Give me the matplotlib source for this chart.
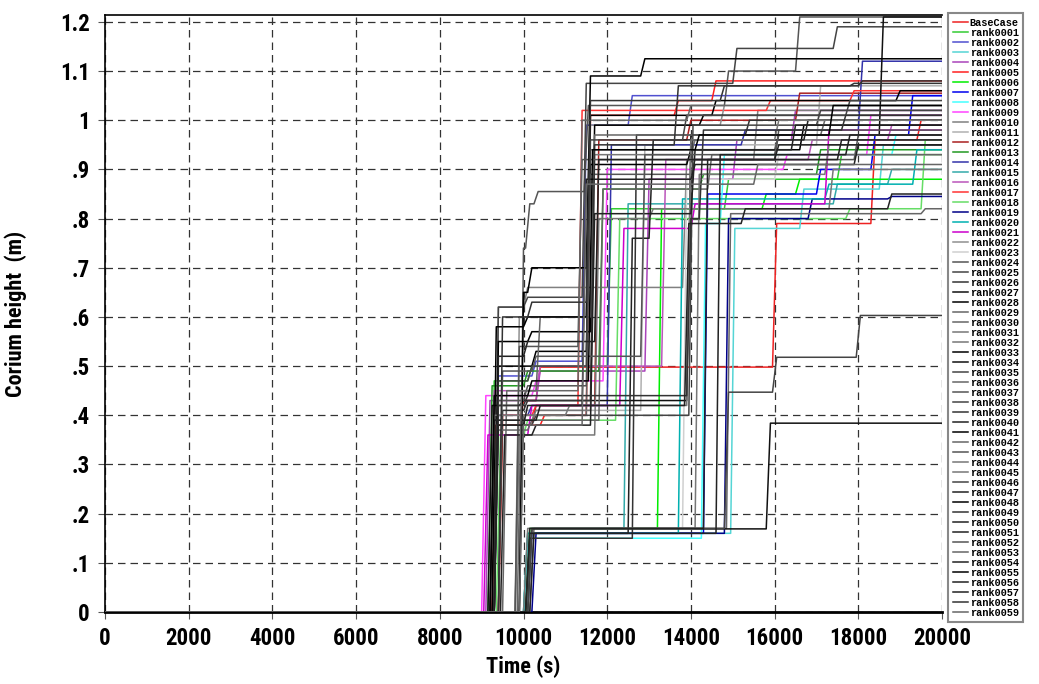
import matplotlib
matplotlib.use('Agg')
import matplotlib.pyplot as plt
from matplotlib import font_manager as fm

# series names
names = ['BaseCase'] + ['rank%04d' % i for i in range(1, 60)]

# times (s) where each series steps up, and the height (m) reached at each step
step_times = [
    [9250, 9900, 10300, 15950, 18300, 19400],   # BaseCase
    [9200, 10100, 12000, 14800, 17500],         # rank0001
    [9300, 10200, 11400, 12500],
    [10000, 14950, 16600, 18500],
    [9100, 10300, 12900, 15000, 16400],
    [9250, 10400, 11500, 13600, 14500],         # rank0005
    [10050, 13200, 15700, 16500],
    [10100, 14300, 17000, 18300, 19200],
    [10000, 14250, 14700, 18800],
    [9000, 10200, 11900, 16200, 18200],
    [9300, 10000, 13800, 15500],                # rank0010
    [9800, 12800, 17000],
    [9400, 10200, 11700, 13900, 16500],
    [9150, 10000, 11800, 14200, 17000],
    [9300, 10100, 12000, 15200, 18000],
    [10100, 12400, 17400, 18700],               # rank0015
    [9200, 10300, 13300, 16800, 18700],
    [9400, 10200, 11300, 15800, 17800],
    [9350, 10000, 12200, 17700, 19500],
    [10200, 14800, 16800, 18700],
    [10000, 13700, 17200, 19300],               # rank0020
    [9050, 10100, 12300, 14000, 17200],
    [9800, 11500, 14700],
    [10100, 13800, 16000],
    [9900, 10050, 10250, 11450, 14800, 16500],
    [9300, 10000, 11400, 15000, 17400],         # rank0025
    [10050, 12600, 15300],
    [9150, 9900, 13900, 18500],
    [9300, 10100, 11600, 14200],
    [9900, 11500, 16000],
    [10150, 14850, 19500],                      # rank0030
    [9200, 10200, 11600, 14000],
    [9800, 11700, 13000, 17300],
    [9300, 10200, 11500, 13900, 16600],
    [10100, 15800],
    [10100, 14800, 15950, 17950],               # rank0035
    [9500, 10300, 11600, 17100],
    [9300, 10000, 11500, 14000, 17900],
    [9250, 10200, 13950, 17000],
    [9400, 10000, 11600, 13600, 18000],
    [10050, 12500, 13000, 16700],               # rank0040
    [9250, 10000, 11500, 14500, 18900],
    [9300, 10100, 11800, 14400],
    [9800, 11300, 16000],
    [10000, 14100, 17200],
    [9200, 11000, 13900, 16000],                # rank0045
    [9300, 10100, 11500, 13800, 17700],
    [9450, 10200, 11600, 14000, 16400],
    [9900, 10100, 11500, 12800],
    [9300, 10000, 13900, 14200, 17600],
    [10050, 14300, 17500],                      # rank0050
    [9200, 10300, 11400, 14000, 17900],
    [9400, 10200, 12800, 16000],
    [9850, 11300, 13900],
    [9300, 10000, 13850, 15200, 18700],
    [9200, 10100, 11550, 14100, 17300],         # rank0055
    [10150, 14600, 17700],
    [9300, 10000, 11700, 16000],
    [9400, 10100, 11500, 14700, 17800],
    [9900, 11400, 15500],
]

step_levels = [
    [0.38, 0.43, 0.498, 0.79, 0.96, 1.00],
    [0.47, 0.50, 0.82, 0.88, 0.93],
    [0.48, 0.51, 0.99, 1.05],
    [0.16, 0.78, 0.86, 0.95],
    [0.43, 0.49, 0.88, 0.96, 1.02],
    [0.38, 0.40, 1.01, 1.04, 1.08],
    [0.17, 0.82, 0.85, 0.88],
    [0.16, 0.85, 0.90, 0.97, 1.05],
    [0.15, 0.79, 0.93, 0.97],
    [0.44, 0.47, 0.90, 0.93, 1.01],
    [0.62, 0.66, 0.92, 1.02],
    [0.41, 0.95, 1.07],
    [0.38, 0.42, 0.96, 1.00, 1.055],
    [0.46, 0.49, 0.86, 0.89, 0.94],
    [0.40, 0.42, 0.95, 0.98, 1.12],
    [0.17, 0.83, 0.87, 0.90],
    [0.45, 0.50, 0.92, 0.96, 0.99],
    [0.40, 0.42, 1.02, 1.04, 1.06],
    [0.36, 0.39, 0.80, 0.82, 0.96],
    [0.16, 0.80, 0.84, 0.845],
    [0.16, 0.84, 0.87, 0.94],
    [0.36, 0.42, 0.78, 0.83, 0.98],
    [0.60, 0.99, 1.03],
    [0.17, 0.88, 0.93],
    [0.74, 0.83, 0.855, 1.03, 1.10, 1.21],
    [0.62, 0.64, 1.075, 1.146, 1.19],
    [0.15, 0.97, 1.00],
    [0.42, 0.43, 0.97, 1.21],
    [0.55, 0.57, 0.99, 1.01],
    [0.40, 0.94, 0.97],
    [0.17, 0.81, 0.82],
    [0.39, 0.41, 0.93, 0.96],
    [0.36, 0.80, 0.82, 0.90],
    [0.50, 0.53, 0.91, 0.94, 0.99],
    [0.169, 0.384],
    [0.17, 0.447, 0.518, 0.603],
    [0.45, 0.60, 0.97, 1.00],
    [0.43, 0.46, 0.89, 0.92, 0.97],
    [0.38, 0.40, 0.99, 1.02],
    [0.41, 0.43, 0.95, 1.07, 1.08],
    [0.16, 0.76, 0.96, 1.00],
    [0.58, 0.60, 1.01, 1.04, 1.06],
    [0.37, 0.39, 0.86, 0.93],
    [0.54, 0.92, 0.98],
    [0.17, 0.89, 0.95],
    [0.40, 0.42, 0.96, 1.00],
    [0.47, 0.50, 0.96, 1.01, 1.04],
    [0.36, 0.38, 0.81, 0.94, 0.99],
    [0.65, 0.70, 1.09, 1.125],
    [0.42, 0.44, 0.80, 0.98, 1.01],
    [0.17, 0.92, 0.96],
    [0.39, 0.42, 0.88, 0.91, 0.95],
    [0.49, 0.52, 0.93, 0.97],
    [0.45, 1.00, 1.03],
    [0.38, 0.42, 0.79, 0.82, 0.85],
    [0.44, 0.47, 0.94, 0.97, 1.03],
    [0.16, 0.93, 0.97],
    [0.52, 0.55, 0.92, 0.95],
    [0.60, 0.63, 1.04, 1.07, 1.075],
    [0.38, 0.87, 0.91],
]

colors = [
    '#ee2222', '#33cc33', '#5050d0', '#55d5d5', '#aa44bb', '#ff2020',
    '#00ee00', '#0000ee', '#44ffff', '#ff44ff', '#808080', '#b0b0b0',
    '#aa2020', '#229922', '#3333aa', '#33aaaa', '#bb55bb', '#ff3333',
    '#66dd66', '#000088', '#00b0b0', '#cc00cc', '#909090', '#d0d0d0',
    '#555555', '#444444', '#333333', '#111111', '#000000', '#666666',
    '#666666', '#777777', '#777777', '#000000', '#111111', '#444444',
    '#666666', '#555555', '#444444', '#333333', '#222222', '#000000',
    '#666666', '#555555', '#777777', '#777777', '#444444', '#222222',
    '#000000', '#333333', '#222222', '#222222', '#555555', '#666666',
    '#222222', '#000000', '#222222', '#222222', '#333333', '#666666',
]

x_ticks = list(range(0, 20001, 2000))
y_ticks = [0.0, 0.1, 0.2, 0.3, 0.4, 0.5, 0.6, 0.7, 0.8, 0.9, 1.0, 1.1, 1.2]
y_tick_labels = ['0', '.1', '.2', '.3', '.4', '.5', '.6', '.7', '.8', '.9', '1', '1.1', '1.2']

T_END = 20000
RAMP = 100


def pick_font(candidates):
    for name in candidates:
        try:
            fm.findfont(fm.FontProperties(family=name), fallback_to_default=False)
            return name
        except ValueError:
            pass
    return 'DejaVu Sans'


tick_font = pick_font(['Liberation Sans Narrow', 'Roboto Condensed', 'Liberation Sans'])
mono_font = pick_font(['Liberation Mono', 'DejaVu Sans Mono'])

fig = plt.figure(figsize=(10.39, 6.84), dpi=100)
ax = fig.add_axes([105 / 1039, 1 - 612 / 684, 837 / 1039, 597 / 684])

for name, times, levels, c in zip(names, step_times, step_levels, colors):
    xs, ys = [0], [0.0]
    prev = 0.0
    for t, h in zip(times, levels):
        xs += [t, t + RAMP]
        ys += [prev, h]
        prev = h
    xs.append(T_END)
    ys.append(prev)
    ax.plot(xs, ys, color=c, lw=1.1, label=name, zorder=3)

ax.set_xlim(0, 20000)
ax.set_ylim(0, 1.214)
ax.set_xticks(x_ticks)
ax.set_yticks(y_ticks)
ax.set_yticklabels(y_tick_labels)

ax.grid(True, color='#333333', linestyle=(0, (6, 4)), lw=0.9, zorder=1)
ax.spines['right'].set_visible(False)
ax.spines['left'].set_linewidth(1.2)
ax.spines['top'].set_linewidth(1.2)
ax.spines['bottom'].set_linewidth(2.0)
ax.tick_params(direction='out', length=5, color='#555555', pad=6)

for lab in ax.get_xticklabels() + ax.get_yticklabels():
    lab.set_fontfamily(tick_font)
    lab.set_fontweight('bold')
    lab.set_fontsize(16.5)

ax.set_xlabel('Time (s)', fontfamily=tick_font, fontweight='bold', fontsize=16, labelpad=4)
ax.set_ylabel('Corium height  (m)', fontfamily=tick_font, fontweight='bold', fontsize=16, labelpad=24)

leg = ax.legend(loc='upper left', bbox_to_anchor=(948 / 1039, 1 - 13 / 684),
                bbox_transform=fig.transFigure, borderaxespad=0,
                prop={'family': mono_font, 'weight': 'bold', 'size': 7.4},
                handlelength=1.5, handletextpad=0.15, labelspacing=0.0,
                borderpad=0.45, fancybox=False, framealpha=1)
leg.get_frame().set_edgecolor('#888888')
leg.get_frame().set_linewidth(1.5)

fig.savefig('out.png', dpi=100)
